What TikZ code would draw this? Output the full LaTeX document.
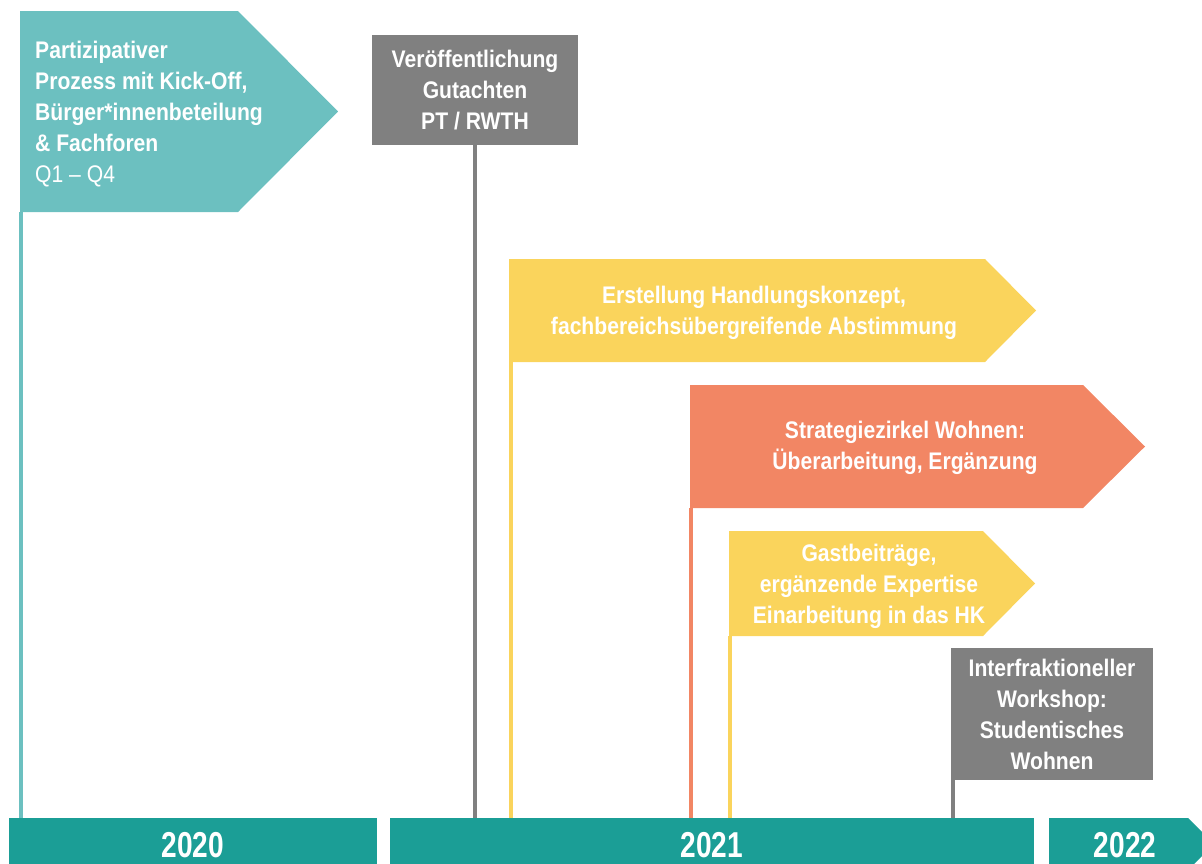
\documentclass[tikz,border=0pt]{standalone}
\usepackage{fontspec}
\newfontfamily\labfont{Liberation Sans}[FakeStretch=0.88]
\newfontfamily\yearfont{Liberation Sans}[FakeStretch=0.78]
\definecolor{tealL}{RGB}{108,192,192}
\definecolor{tealD}{RGB}{27,158,150}
\definecolor{greyB}{RGB}{128,128,128}
\definecolor{yellowB}{RGB}{250,212,92}
\definecolor{orangeB}{RGB}{242,134,100}
\begin{document}
\begin{tikzpicture}[x=1pt,y=-1pt,
  lab/.style={text=white,inner sep=0pt,font=\labfont\bfseries\fontsize{24}{31}\selectfont},
  boxnode/.style={fill=greyB,inner sep=0pt,align=center,text=white,font=\labfont\bfseries\fontsize{24}{31}\selectfont},
  bar/.style={fill=tealD,inner sep=0pt,anchor=north west,minimum height=52},
  yearlab/.style={text=white,inner sep=0pt,font=\yearfont\bfseries\fontsize{36}{40}\selectfont},
  pole/.style={line width=4pt}]
\useasboundingbox (0,0) rectangle (1202,863);
\clip (0,0) rectangle (1202,863);

% timeline bars
\node[bar,minimum width=368] (y2020) at (9,818) {};
\node[bar,minimum width=644] (y2021) at (390,818) {};
\fill[tealD] (1049,818) -- (1188,818) -- (1214,844) -- (1188,870) -- (1049,870) -- cycle;
\coordinate (y2022) at (1049,818);
\node[yearlab] (l2020) at (193,845) {2020};
\node[yearlab] (l2021) at (712,845) {2021};
\node[yearlab] (l2022) at (1125,845) {2022};

% flag 1
\fill[tealL] (20,11) -- (238,11) -- (338,111.5) -- (238,212) -- (20,212) -- cycle;
\coordinate (f1) at (21,212);
\node[lab,anchor=north west,align=left] (t1) at (35,41)
  {Partizipativer\\Prozess mit Kick-Off,\\Bürger*innenbeteilung\\\& Fachforen\\\mdseries Q1 – Q4};
\draw[pole,tealL] (f1) -- (f1 |- y2020.north);

% box 2
\node[boxnode,minimum width=206,minimum height=110] (b2) at (475,90)
  {Veröffentlichung\\Gutachten\\PT / RWTH};
\draw[pole,greyB] (b2.south) -- (b2.south |- y2021.north);

% flag 3
\fill[yellowB] (509,259) -- (985,259) -- (1036,310.5) -- (985,362) -- (509,362) -- cycle;
\coordinate (f3) at (511,362);
\node[lab,align=center] (t3) at (754,313)
  {Erstellung Handlungskonzept,\\fachbereichsübergreifende Abstimmung};
\draw[pole,yellowB] (f3) -- (f3 |- y2021.north);

% flag 4
\fill[orangeB] (690,385) -- (1083,385) -- (1145,446.5) -- (1083,508) -- (690,508) -- cycle;
\coordinate (f4) at (691,508);
\node[lab,align=center] (t4) at (905,448)
  {Strategiezirkel Wohnen:\\Überarbeitung, Ergänzung};
\draw[pole,orangeB] (f4) -- (f4 |- y2021.north);

% flag 5
\fill[yellowB] (729,531) -- (983,531) -- (1035,583.5) -- (983,636) -- (729,636) -- cycle;
\coordinate (f5) at (730,636);
\node[lab,align=center] (t5) at (869,586)
  {Gastbeiträge,\\ergänzende Expertise\\Einarbeitung in das HK};
\draw[pole,yellowB] (f5) -- (f5 |- y2021.north);

% box 6
\node[boxnode,minimum width=202,minimum height=132] (b6) at (1052,714)
  {Interfraktioneller\\Workshop:\\Studentisches\\Wohnen};
\coordinate (f6) at (953,780);
\draw[pole,greyB] (f6) -- (f6 |- y2021.north);
\end{tikzpicture}
\end{document}
